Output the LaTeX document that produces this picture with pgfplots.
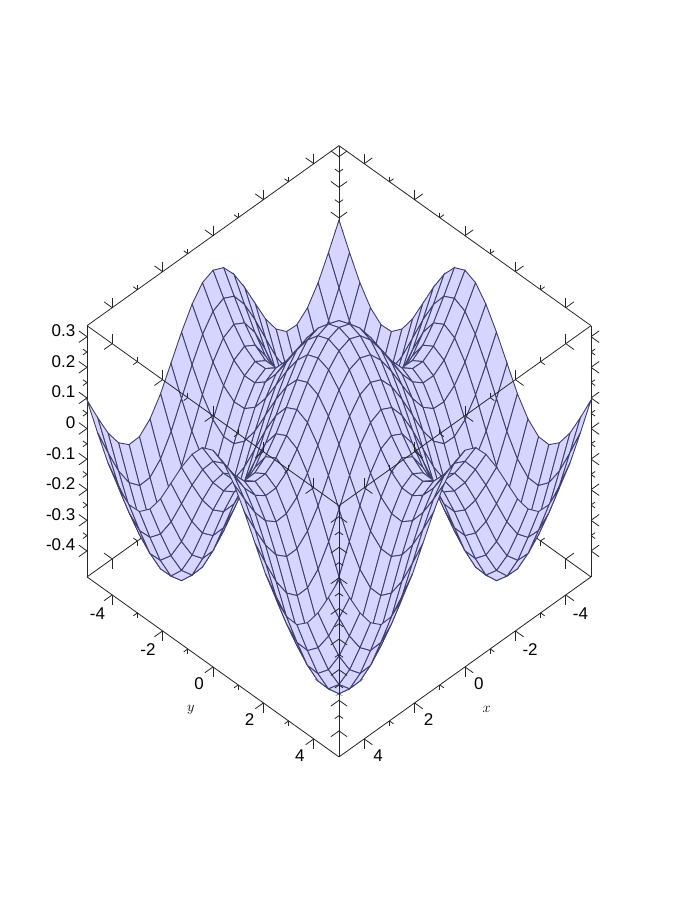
\documentclass[border=0pt]{standalone}
\usepackage{fontspec}
\setmainfont{Liberation Sans}
\usepackage{pgfplots}
\pgfplotsset{compat=1.18}
\definecolor{meshline}{RGB}{62,62,112}
\begin{document}
\begin{tikzpicture}
\useasboundingbox (0pt,0pt) rectangle (698pt,903pt);
\begin{axis}[
  at={(339pt,474.5pt)}, anchor=origin,
  x={(-25.2pt,-18pt)}, y={(25.2pt,-18pt)}, z={(0pt,306pt)},
  xmin=-5, xmax=5, ymin=-5, ymax=5, zmin=-0.485, zmax=0.336,
  clip=false,
  3d box=complete,
  grid=none,
  xtick={-4,-2,0,2,4}, ytick={-4,-2,0,2,4},
  ztick={-0.4,-0.3,-0.2,-0.1,0,0.1,0.2,0.3},
  minor x tick num=1, minor y tick num=1, minor z tick num=1,
  major tick length=10pt, minor tick length=5pt,
  tick align=outside,
  tick style={black!85, line width=0.8pt},
  axis line style={black!85, line width=0.8pt},
  ticklabel style={font=\fontsize{17}{17}\selectfont},
  /pgf/number format/assume math mode=true,
  /pgf/number format/fixed,
  xlabel={$x$}, ylabel={$y$},
  label style={font=\fontsize{15}{15}\selectfont},
  colormap={lav}{rgb255(0cm)=(213,213,255); rgb255(1cm)=(213,213,255)},
  point meta min=0, point meta max=1,
]
\addplot3[surf, shader=faceted, faceted color=meshline, line width=0.9pt,
  mesh/rows=25, mesh/cols=25, z buffer=none, point meta=0.5] coordinates {
(-5,-5,.093) (-4.58,-5,.011) (-4.17,-5,-.063) (-3.75,-5,-.120) (-3.33,-5,-.151) (-2.92,-5,-.149) (-2.5,-5,-.116) (-2.08,-5,-.058) (-1.67,-5,.017) (-1.25,-5,.094) (-.83,-5,.161) (-.42,-5,.207) (0,-5,.223) (.42,-5,.207) (.83,-5,.161) (1.25,-5,.094) (1.67,-5,.017) (2.08,-5,-.058) (2.5,-5,-.116) (2.92,-5,-.149) (3.33,-5,-.151) (3.75,-5,-.120) (4.17,-5,-.063) (4.58,-5,.011) (5,-5,.093)
(-5,-4.58,.011) (-4.58,-4.58,-.080) (-4.17,-4.58,-.163) (-3.75,-4.58,-.226) (-3.33,-4.58,-.260) (-2.92,-4.58,-.258) (-2.5,-4.58,-.222) (-2.08,-4.58,-.157) (-1.67,-4.58,-.074) (-1.25,-4.58,.012) (-.83,-4.58,.087) (-.42,-4.58,.138) (0,-4.58,.156) (.42,-4.58,.138) (.83,-4.58,.087) (1.25,-4.58,.012) (1.67,-4.58,-.074) (2.08,-4.58,-.157) (2.5,-4.58,-.222) (2.92,-4.58,-.258) (3.33,-4.58,-.260) (3.75,-4.58,-.226) (4.17,-4.58,-.163) (4.58,-4.58,-.080) (5,-4.58,.011)
(-5,-4.17,-.063) (-4.58,-4.17,-.163) (-4.17,-4.17,-.253) (-3.75,-4.17,-.322) (-3.33,-4.17,-.359) (-2.92,-4.17,-.357) (-2.5,-4.17,-.317) (-2.08,-4.17,-.246) (-1.67,-4.17,-.156) (-1.25,-4.17,-.062) (-.83,-4.17,.020) (-.42,-4.17,.075) (0,-4.17,.095) (.42,-4.17,.075) (.83,-4.17,.020) (1.25,-4.17,-.062) (1.67,-4.17,-.156) (2.08,-4.17,-.246) (2.5,-4.17,-.317) (2.92,-4.17,-.357) (3.33,-4.17,-.359) (3.75,-4.17,-.322) (4.17,-4.17,-.253) (4.58,-4.17,-.163) (5,-4.17,-.063)
(-5,-3.75,-.120) (-4.58,-3.75,-.226) (-4.17,-3.75,-.322) (-3.75,-3.75,-.395) (-3.33,-3.75,-.434) (-2.92,-3.75,-.433) (-2.5,-3.75,-.390) (-2.08,-3.75,-.315) (-1.67,-3.75,-.219) (-1.25,-3.75,-.119) (-.83,-3.75,-.032) (-.42,-3.75,.027) (0,-3.75,.048) (.42,-3.75,.027) (.83,-3.75,-.032) (1.25,-3.75,-.119) (1.67,-3.75,-.219) (2.08,-3.75,-.315) (2.5,-3.75,-.390) (2.92,-3.75,-.433) (3.33,-3.75,-.434) (3.75,-3.75,-.395) (4.17,-3.75,-.322) (4.58,-3.75,-.226) (5,-3.75,-.120)
(-5,-3.33,-.151) (-4.58,-3.33,-.260) (-4.17,-3.33,-.359) (-3.75,-3.33,-.434) (-3.33,-3.33,-.475) (-2.92,-3.33,-.473) (-2.5,-3.33,-.430) (-2.08,-3.33,-.351) (-1.67,-3.33,-.252) (-1.25,-3.33,-.149) (-.83,-3.33,-.060) (-.42,-3.33,.001) (0,-3.33,.023) (.42,-3.33,.001) (.83,-3.33,-.060) (1.25,-3.33,-.149) (1.67,-3.33,-.252) (2.08,-3.33,-.351) (2.5,-3.33,-.430) (2.92,-3.33,-.473) (3.33,-3.33,-.475) (3.75,-3.33,-.434) (4.17,-3.33,-.359) (4.58,-3.33,-.260) (5,-3.33,-.151)
(-5,-2.92,-.149) (-4.58,-2.92,-.258) (-4.17,-2.92,-.357) (-3.75,-2.92,-.433) (-3.33,-2.92,-.473) (-2.92,-2.92,-.471) (-2.5,-2.92,-.428) (-2.08,-2.92,-.350) (-1.67,-2.92,-.251) (-1.25,-2.92,-.148) (-.83,-2.92,-.058) (-.42,-2.92,.002) (0,-2.92,.024) (.42,-2.92,.002) (.83,-2.92,-.058) (1.25,-2.92,-.148) (1.67,-2.92,-.251) (2.08,-2.92,-.350) (2.5,-2.92,-.428) (2.92,-2.92,-.471) (3.33,-2.92,-.473) (3.75,-2.92,-.433) (4.17,-2.92,-.357) (4.58,-2.92,-.258) (5,-2.92,-.149)
(-5,-2.5,-.116) (-4.58,-2.5,-.222) (-4.17,-2.5,-.317) (-3.75,-2.5,-.390) (-3.33,-2.5,-.430) (-2.92,-2.5,-.428) (-2.5,-2.5,-.386) (-2.08,-2.5,-.310) (-1.67,-2.5,-.215) (-1.25,-2.5,-.115) (-.83,-2.5,-.029) (-.42,-2.5,.030) (0,-2.5,.051) (.42,-2.5,.030) (.83,-2.5,-.029) (1.25,-2.5,-.115) (1.67,-2.5,-.215) (2.08,-2.5,-.310) (2.5,-2.5,-.386) (2.92,-2.5,-.428) (3.33,-2.5,-.430) (3.75,-2.5,-.390) (4.17,-2.5,-.317) (4.58,-2.5,-.222) (5,-2.5,-.116)
(-5,-2.08,-.058) (-4.58,-2.08,-.157) (-4.17,-2.08,-.246) (-3.75,-2.08,-.315) (-3.33,-2.08,-.351) (-2.92,-2.08,-.350) (-2.5,-2.08,-.310) (-2.08,-2.08,-.240) (-1.67,-2.08,-.150) (-1.25,-2.08,-.057) (-.83,-2.08,.025) (-.42,-2.08,.080) (0,-2.08,.099) (.42,-2.08,.080) (.83,-2.08,.025) (1.25,-2.08,-.057) (1.67,-2.08,-.150) (2.08,-2.08,-.240) (2.5,-2.08,-.310) (2.92,-2.08,-.350) (3.33,-2.08,-.351) (3.75,-2.08,-.315) (4.17,-2.08,-.246) (4.58,-2.08,-.157) (5,-2.08,-.058)
(-5,-1.67,.017) (-4.58,-1.67,-.074) (-4.17,-1.67,-.156) (-3.75,-1.67,-.219) (-3.33,-1.67,-.252) (-2.92,-1.67,-.251) (-2.5,-1.67,-.215) (-2.08,-1.67,-.150) (-1.67,-1.67,-.068) (-1.25,-1.67,.018) (-.83,-1.67,.092) (-.42,-1.67,.142) (0,-1.67,.160) (.42,-1.67,.142) (.83,-1.67,.092) (1.25,-1.67,.018) (1.67,-1.67,-.068) (2.08,-1.67,-.150) (2.5,-1.67,-.215) (2.92,-1.67,-.251) (3.33,-1.67,-.252) (3.75,-1.67,-.219) (4.17,-1.67,-.156) (4.58,-1.67,-.074) (5,-1.67,.017)
(-5,-1.25,.094) (-4.58,-1.25,.012) (-4.17,-1.25,-.062) (-3.75,-1.25,-.119) (-3.33,-1.25,-.149) (-2.92,-1.25,-.148) (-2.5,-1.25,-.115) (-2.08,-1.25,-.057) (-1.67,-1.25,.018) (-1.25,-1.25,.095) (-.83,-1.25,.162) (-.42,-1.25,.208) (0,-1.25,.224) (.42,-1.25,.208) (.83,-1.25,.162) (1.25,-1.25,.095) (1.67,-1.25,.018) (2.08,-1.25,-.057) (2.5,-1.25,-.115) (2.92,-1.25,-.148) (3.33,-1.25,-.149) (3.75,-1.25,-.119) (4.17,-1.25,-.062) (4.58,-1.25,.012) (5,-1.25,.094)
(-5,-.83,.161) (-4.58,-.83,.087) (-4.17,-.83,.020) (-3.75,-.83,-.032) (-3.33,-.83,-.060) (-2.92,-.83,-.058) (-2.5,-.83,-.029) (-2.08,-.83,.025) (-1.67,-.83,.092) (-1.25,-.83,.162) (-.83,-.83,.223) (-.42,-.83,.265) (0,-.83,.279) (.42,-.83,.265) (.83,-.83,.223) (1.25,-.83,.162) (1.67,-.83,.092) (2.08,-.83,.025) (2.5,-.83,-.029) (2.92,-.83,-.058) (3.33,-.83,-.060) (3.75,-.83,-.032) (4.17,-.83,.020) (4.58,-.83,.087) (5,-.83,.161)
(-5,-.42,.207) (-4.58,-.42,.138) (-4.17,-.42,.075) (-3.75,-.42,.027) (-3.33,-.42,.001) (-2.92,-.42,.002) (-2.5,-.42,.030) (-2.08,-.42,.080) (-1.67,-.42,.142) (-1.25,-.42,.208) (-.83,-.42,.265) (-.42,-.42,.303) (0,-.42,.317) (.42,-.42,.303) (.83,-.42,.265) (1.25,-.42,.208) (1.67,-.42,.142) (2.08,-.42,.080) (2.5,-.42,.030) (2.92,-.42,.002) (3.33,-.42,.001) (3.75,-.42,.027) (4.17,-.42,.075) (4.58,-.42,.138) (5,-.42,.207)
(-5,0,.223) (-4.58,0,.156) (-4.17,0,.095) (-3.75,0,.048) (-3.33,0,.023) (-2.92,0,.024) (-2.5,0,.051) (-2.08,0,.099) (-1.67,0,.160) (-1.25,0,.224) (-.83,0,.279) (-.42,0,.317) (0,0,.330) (.42,0,.317) (.83,0,.279) (1.25,0,.224) (1.67,0,.160) (2.08,0,.099) (2.5,0,.051) (2.92,0,.024) (3.33,0,.023) (3.75,0,.048) (4.17,0,.095) (4.58,0,.156) (5,0,.223)
(-5,.42,.207) (-4.58,.42,.138) (-4.17,.42,.075) (-3.75,.42,.027) (-3.33,.42,.001) (-2.92,.42,.002) (-2.5,.42,.030) (-2.08,.42,.080) (-1.67,.42,.142) (-1.25,.42,.208) (-.83,.42,.265) (-.42,.42,.303) (0,.42,.317) (.42,.42,.303) (.83,.42,.265) (1.25,.42,.208) (1.67,.42,.142) (2.08,.42,.080) (2.5,.42,.030) (2.92,.42,.002) (3.33,.42,.001) (3.75,.42,.027) (4.17,.42,.075) (4.58,.42,.138) (5,.42,.207)
(-5,.83,.161) (-4.58,.83,.087) (-4.17,.83,.020) (-3.75,.83,-.032) (-3.33,.83,-.060) (-2.92,.83,-.058) (-2.5,.83,-.029) (-2.08,.83,.025) (-1.67,.83,.092) (-1.25,.83,.162) (-.83,.83,.223) (-.42,.83,.265) (0,.83,.279) (.42,.83,.265) (.83,.83,.223) (1.25,.83,.162) (1.67,.83,.092) (2.08,.83,.025) (2.5,.83,-.029) (2.92,.83,-.058) (3.33,.83,-.060) (3.75,.83,-.032) (4.17,.83,.020) (4.58,.83,.087) (5,.83,.161)
(-5,1.25,.094) (-4.58,1.25,.012) (-4.17,1.25,-.062) (-3.75,1.25,-.119) (-3.33,1.25,-.149) (-2.92,1.25,-.148) (-2.5,1.25,-.115) (-2.08,1.25,-.057) (-1.67,1.25,.018) (-1.25,1.25,.095) (-.83,1.25,.162) (-.42,1.25,.208) (0,1.25,.224) (.42,1.25,.208) (.83,1.25,.162) (1.25,1.25,.095) (1.67,1.25,.018) (2.08,1.25,-.057) (2.5,1.25,-.115) (2.92,1.25,-.148) (3.33,1.25,-.149) (3.75,1.25,-.119) (4.17,1.25,-.062) (4.58,1.25,.012) (5,1.25,.094)
(-5,1.67,.017) (-4.58,1.67,-.074) (-4.17,1.67,-.156) (-3.75,1.67,-.219) (-3.33,1.67,-.252) (-2.92,1.67,-.251) (-2.5,1.67,-.215) (-2.08,1.67,-.150) (-1.67,1.67,-.068) (-1.25,1.67,.018) (-.83,1.67,.092) (-.42,1.67,.142) (0,1.67,.160) (.42,1.67,.142) (.83,1.67,.092) (1.25,1.67,.018) (1.67,1.67,-.068) (2.08,1.67,-.150) (2.5,1.67,-.215) (2.92,1.67,-.251) (3.33,1.67,-.252) (3.75,1.67,-.219) (4.17,1.67,-.156) (4.58,1.67,-.074) (5,1.67,.017)
(-5,2.08,-.058) (-4.58,2.08,-.157) (-4.17,2.08,-.246) (-3.75,2.08,-.315) (-3.33,2.08,-.351) (-2.92,2.08,-.350) (-2.5,2.08,-.310) (-2.08,2.08,-.240) (-1.67,2.08,-.150) (-1.25,2.08,-.057) (-.83,2.08,.025) (-.42,2.08,.080) (0,2.08,.099) (.42,2.08,.080) (.83,2.08,.025) (1.25,2.08,-.057) (1.67,2.08,-.150) (2.08,2.08,-.240) (2.5,2.08,-.310) (2.92,2.08,-.350) (3.33,2.08,-.351) (3.75,2.08,-.315) (4.17,2.08,-.246) (4.58,2.08,-.157) (5,2.08,-.058)
(-5,2.5,-.116) (-4.58,2.5,-.222) (-4.17,2.5,-.317) (-3.75,2.5,-.390) (-3.33,2.5,-.430) (-2.92,2.5,-.428) (-2.5,2.5,-.386) (-2.08,2.5,-.310) (-1.67,2.5,-.215) (-1.25,2.5,-.115) (-.83,2.5,-.029) (-.42,2.5,.030) (0,2.5,.051) (.42,2.5,.030) (.83,2.5,-.029) (1.25,2.5,-.115) (1.67,2.5,-.215) (2.08,2.5,-.310) (2.5,2.5,-.386) (2.92,2.5,-.428) (3.33,2.5,-.430) (3.75,2.5,-.390) (4.17,2.5,-.317) (4.58,2.5,-.222) (5,2.5,-.116)
(-5,2.92,-.149) (-4.58,2.92,-.258) (-4.17,2.92,-.357) (-3.75,2.92,-.433) (-3.33,2.92,-.473) (-2.92,2.92,-.471) (-2.5,2.92,-.428) (-2.08,2.92,-.350) (-1.67,2.92,-.251) (-1.25,2.92,-.148) (-.83,2.92,-.058) (-.42,2.92,.002) (0,2.92,.024) (.42,2.92,.002) (.83,2.92,-.058) (1.25,2.92,-.148) (1.67,2.92,-.251) (2.08,2.92,-.350) (2.5,2.92,-.428) (2.92,2.92,-.471) (3.33,2.92,-.473) (3.75,2.92,-.433) (4.17,2.92,-.357) (4.58,2.92,-.258) (5,2.92,-.149)
(-5,3.33,-.151) (-4.58,3.33,-.260) (-4.17,3.33,-.359) (-3.75,3.33,-.434) (-3.33,3.33,-.475) (-2.92,3.33,-.473) (-2.5,3.33,-.430) (-2.08,3.33,-.351) (-1.67,3.33,-.252) (-1.25,3.33,-.149) (-.83,3.33,-.060) (-.42,3.33,.001) (0,3.33,.023) (.42,3.33,.001) (.83,3.33,-.060) (1.25,3.33,-.149) (1.67,3.33,-.252) (2.08,3.33,-.351) (2.5,3.33,-.430) (2.92,3.33,-.473) (3.33,3.33,-.475) (3.75,3.33,-.434) (4.17,3.33,-.359) (4.58,3.33,-.260) (5,3.33,-.151)
(-5,3.75,-.120) (-4.58,3.75,-.226) (-4.17,3.75,-.322) (-3.75,3.75,-.395) (-3.33,3.75,-.434) (-2.92,3.75,-.433) (-2.5,3.75,-.390) (-2.08,3.75,-.315) (-1.67,3.75,-.219) (-1.25,3.75,-.119) (-.83,3.75,-.032) (-.42,3.75,.027) (0,3.75,.048) (.42,3.75,.027) (.83,3.75,-.032) (1.25,3.75,-.119) (1.67,3.75,-.219) (2.08,3.75,-.315) (2.5,3.75,-.390) (2.92,3.75,-.433) (3.33,3.75,-.434) (3.75,3.75,-.395) (4.17,3.75,-.322) (4.58,3.75,-.226) (5,3.75,-.120)
(-5,4.17,-.063) (-4.58,4.17,-.163) (-4.17,4.17,-.253) (-3.75,4.17,-.322) (-3.33,4.17,-.359) (-2.92,4.17,-.357) (-2.5,4.17,-.317) (-2.08,4.17,-.246) (-1.67,4.17,-.156) (-1.25,4.17,-.062) (-.83,4.17,.020) (-.42,4.17,.075) (0,4.17,.095) (.42,4.17,.075) (.83,4.17,.020) (1.25,4.17,-.062) (1.67,4.17,-.156) (2.08,4.17,-.246) (2.5,4.17,-.317) (2.92,4.17,-.357) (3.33,4.17,-.359) (3.75,4.17,-.322) (4.17,4.17,-.253) (4.58,4.17,-.163) (5,4.17,-.063)
(-5,4.58,.011) (-4.58,4.58,-.080) (-4.17,4.58,-.163) (-3.75,4.58,-.226) (-3.33,4.58,-.260) (-2.92,4.58,-.258) (-2.5,4.58,-.222) (-2.08,4.58,-.157) (-1.67,4.58,-.074) (-1.25,4.58,.012) (-.83,4.58,.087) (-.42,4.58,.138) (0,4.58,.156) (.42,4.58,.138) (.83,4.58,.087) (1.25,4.58,.012) (1.67,4.58,-.074) (2.08,4.58,-.157) (2.5,4.58,-.222) (2.92,4.58,-.258) (3.33,4.58,-.260) (3.75,4.58,-.226) (4.17,4.58,-.163) (4.58,4.58,-.080) (5,4.58,.011)
(-5,5,.093) (-4.58,5,.011) (-4.17,5,-.063) (-3.75,5,-.120) (-3.33,5,-.151) (-2.92,5,-.149) (-2.5,5,-.116) (-2.08,5,-.058) (-1.67,5,.017) (-1.25,5,.094) (-.83,5,.161) (-.42,5,.207) (0,5,.223) (.42,5,.207) (.83,5,.161) (1.25,5,.094) (1.67,5,.017) (2.08,5,-.058) (2.5,5,-.116) (2.92,5,-.149) (3.33,5,-.151) (3.75,5,-.120) (4.17,5,-.063) (4.58,5,.011) (5,5,.093)
};
\end{axis}
\end{tikzpicture}
\end{document}
